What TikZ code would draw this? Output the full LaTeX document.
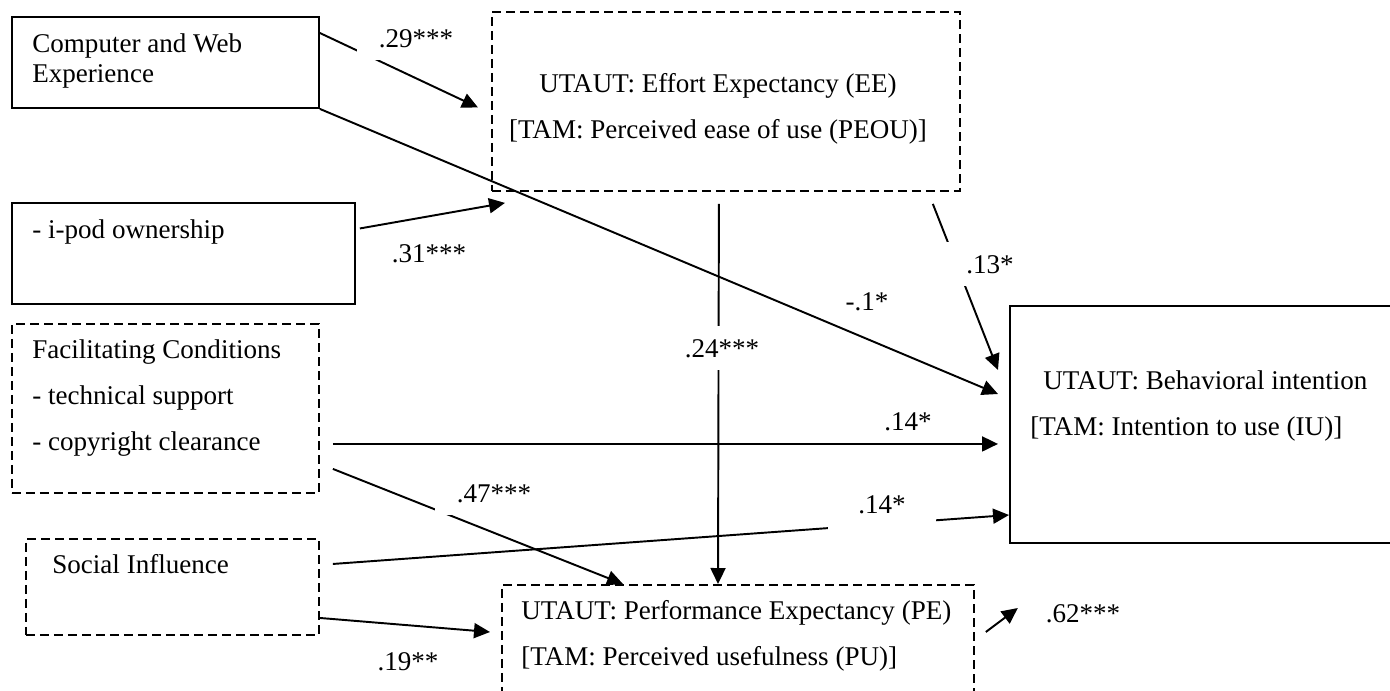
\documentclass[tikz,border=0pt]{standalone}
\usepackage{fontspec}
\setmainfont{Liberation Serif}
\usepackage{tikz}
\usetikzlibrary{positioning, calc, arrows.meta}

\begin{document}
\begin{tikzpicture}[
            x=0.02cm, y=-0.02cm,
            font=\fontsize{15.4}{17}\selectfont,
            box/.style={draw, rectangle, line width=1.1pt, inner sep=0pt, anchor=north west},
            dbox/.style={box, dash pattern=on 0.18cm off 0.1cm},
            txt/.style={inner sep=0pt, anchor=base west, align=left},
            conn/.style={line width=1.1pt, -{Triangle[length=0.32cm, width=0.3cm]}},
            coef/.style={inner sep=0pt, anchor=base},
            cut/.style={fill=white, inner xsep=0.44cm, inner ysep=0.26cm},
        ]
            \clip (0,0) rectangle (1390,690);

            \node[box, minimum width=6.14cm, minimum height=1.82cm] (cwe) at (11,16) {};
            \node[box, minimum width=6.86cm, minimum height=2.02cm] (ipod) at (11,202) {};
            \node[dbox, minimum width=9.36cm, minimum height=3.58cm] (ee) at (491,11) {};
            \node[dbox, minimum width=6.14cm, minimum height=3.38cm] (fc) at (11,323) {};
            \node[dbox, minimum width=5.86cm, minimum height=1.92cm] (si) at (25,538) {};
            \node[dbox, minimum width=9.44cm, minimum height=2.6cm] (pe) at (501,584) {};
            \node[box, minimum width=8cm, minimum height=4.74cm] (bi) at (1009,305) {};

            \node[txt] (cwe-txt) at (32,82) {Computer and Web\\Experience};
            \node[txt] (ipod-txt) at (32,238) {- i-pod ownership};
            \node[txt, anchor=base, align=center] (ee-txt) at (718,138)
                {UTAUT: Effort Expectancy (EE)\\[9pt]{[TAM: Perceived ease of use (PEOU)]}};
            \node[txt] (fc-txt) at (32,450)
                {Facilitating Conditions\\[9pt]- technical support\\[9pt]- copyright clearance};
            \node[txt] (si-txt) at (52,573) {Social Influence};
            \node[txt] (pe-txt) at (521,665)
                {UTAUT: Performance Expectancy (PE)\\[9pt]{[TAM: Perceived usefulness (PU)]}};
            \node[txt] (bi-txt) at (1030,435)
                {\hspace*{0.26cm}UTAUT: Behavioral intention\\[9pt]{[TAM: Intention to use (IU)]}};

            \draw[conn] ($(cwe.north east)+(0,17)$) -- ($(ee.west)+(-13,6)$);
            \draw[conn] (cwe.south east) -- ($(bi.north west)+(-11,89)$);
            \draw[conn] ($(ipod.east)+(4,-25)$) -- ($(ee.south west)+(14,11)$);
            \draw[conn] ($(ee.south east)+(-28,12)$) -- ($(bi.north west)+(-11,65)$);
            \draw[conn] ($(ee.south)+(-7,12)$) -- ($(pe.north west)+(217,0)$);
            \draw[conn, shorten >=0.22cm] ($(fc.east)+(13,35.5)$) coordinate (fc-out) -- (fc-out -| bi.west);
            \draw[conn] ($(fc.south east)+(13,-25)$) -- ($(pe.north west)+(122,0)$);
            \draw[conn] ($(si.east)+(13,-23)$) -- ($(bi.north west)+(0,210)$);
            \draw[conn] ($(si.east)+(0,31)$) -- ($(pe.north west)+(-11,48)$);
            \coordinate (pe-out) at ($(pe.north east)+(11,48)$);
            \draw[conn] (pe-out) -- ($(pe-out)+(32,-24)$);

            \node[coef, cut] (l-cwe-ee) at (416,47) {.29***};
            \node[coef] (l-ipod-ee) at (429,262) {.31***};
            \node[coef] (l-cwe-bi) at (867,310) {-.1*};
            \node[coef, cut] (l-ee-bi) at (990,273) {.13*};
            \node[coef, cut] (l-ee-pe) at (722,357) {.24***};
            \node[coef] (l-fc-bi) at (908,430) {.14*};
            \node[coef, cut] (l-fc-pe) at (494,502) {.47***};
            \node[coef, cut, inner xsep=0.6cm, inner ysep=0.36cm] (l-si-bi) at (882,513) {.14*};
            \node[coef] (l-si-pe) at (408,670) {.19**};
            \node[coef] (l-pe-bi) at (1083,622) {.62***};
        \end{tikzpicture}
\end{document}
